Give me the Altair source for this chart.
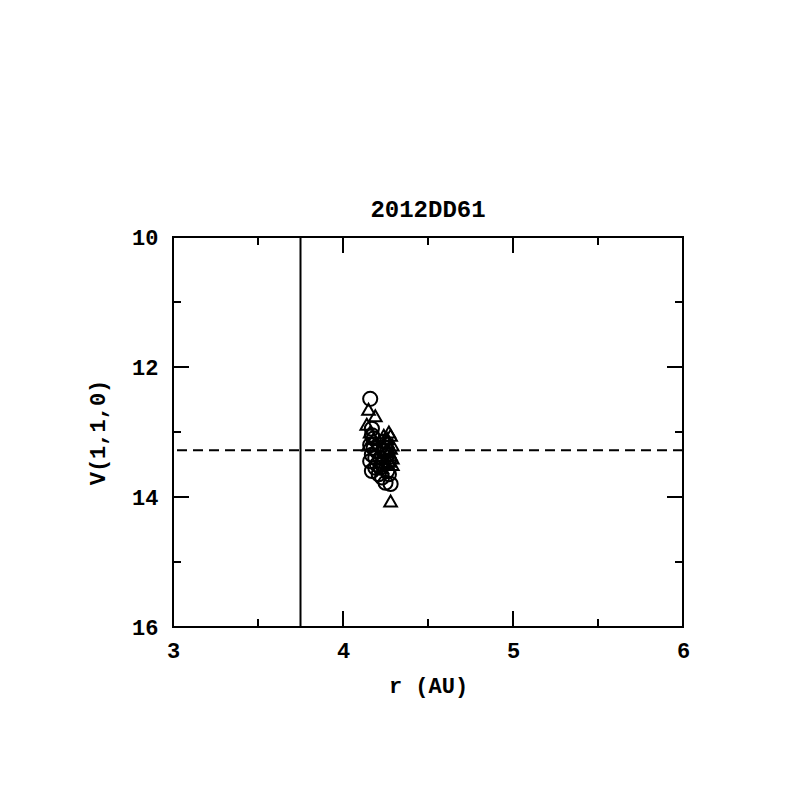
import altair as alt
import pandas as pd

circ_r = [4.16, 4.17, 4.16, 4.18, 4.17, 4.16, 4.19, 4.17, 4.20, 4.22, 4.24, 4.25, 4.27, 4.26, 4.23, 4.21, 4.19,
          4.28, 4.25, 4.22, 4.18, 4.20, 4.24, 4.26, 4.17, 4.21, 4.23, 4.27]
circ_v = [12.49, 12.95, 13.20, 13.10, 13.35, 13.45, 13.55, 13.60, 13.50, 13.40, 13.30, 13.25, 13.45, 13.60, 13.70, 13.65, 13.40,
          13.80, 13.78, 13.55, 13.25, 13.30, 13.15, 13.35, 13.05, 13.20, 13.50, 13.65]
tri_r = [4.15, 4.19, 4.14, 4.16, 4.15, 4.18, 4.27, 4.28, 4.26, 4.29, 4.25, 4.28, 4.27, 4.23, 4.29, 4.28,
         4.26, 4.28, 4.24, 4.27, 4.22, 4.29]
tri_v = [12.65, 12.75, 12.88, 13.00, 13.20, 13.10, 13.00, 13.05, 13.15, 13.20, 13.30, 13.35, 13.45, 13.55, 13.40, 14.06,
         13.10, 13.25, 13.05, 13.30, 13.40, 13.50]

vline_r = [3.75]
hline_v = [13.28]
x_major = [3, 4, 5, 6]
x_minor = [3.5, 4.5, 5.5]
y_major = [10, 12, 14, 16]
y_minor = [11, 13, 15]

FONT = "Liberation Mono"
W, H = 510, 390

xs = alt.Scale(domain=[3, 6], nice=False, zero=False)
ys = alt.Scale(domain=[10, 16], nice=False, zero=False, reverse=True)

xaxis = alt.Axis(values=x_major, format="d", ticks=False, domain=False, grid=False, labelFlush=False,
                 labelFont=FONT, labelFontSize=22, labelFontWeight="bold", labelPadding=13,
                 title="r (AU)", titleFont=FONT, titleFontSize=22, titleFontWeight="bold", titlePadding=14,
                 labelColor="black", titleColor="black")
yaxis = alt.Axis(values=y_major, format="d", ticks=False, domain=False, grid=False, labelFlush=False,
                 labelFont=FONT, labelFontSize=22, labelFontWeight="bold", labelPadding=15,
                 title="V(1,1,0)", titleFont=FONT, titleFontSize=22, titleFontWeight="bold", titlePadding=22,
                 labelColor="black", titleColor="black")

cdf = pd.DataFrame({"r": circ_r, "v": circ_v})
tdf = pd.DataFrame({"r": tri_r, "v": tri_v})

circles = alt.Chart(cdf).mark_point(shape="circle", size=200, filled=False, color="black",
                                    opacity=1, strokeWidth=2).encode(
    x=alt.X("r:Q", scale=xs, axis=xaxis),
    y=alt.Y("v:Q", scale=ys, axis=yaxis),
)
tris = alt.Chart(tdf).mark_point(shape="triangle-up", size=160, filled=False, color="black",
                                 opacity=1, strokeWidth=2).encode(
    x=alt.X("r:Q", scale=xs), y=alt.Y("v:Q", scale=ys)
)

vline = alt.Chart(pd.DataFrame({"r": vline_r})).mark_rule(color="black", strokeWidth=2).encode(
    x=alt.X("r:Q", scale=xs))
hline = alt.Chart(pd.DataFrame({"v": hline_v})).mark_rule(color="black", strokeWidth=2, strokeDash=[10, 6]).encode(
    y=alt.Y("v:Q", scale=ys))

def xticks(vals, length):
    d = pd.DataFrame({"r": vals})
    bot = alt.Chart(d).mark_rule(color="black", strokeWidth=2).encode(
        x=alt.X("r:Q", scale=xs), y=alt.value(H), y2=alt.value(H - length))
    top = alt.Chart(d).mark_rule(color="black", strokeWidth=2).encode(
        x=alt.X("r:Q", scale=xs), y=alt.value(0), y2=alt.value(length))
    return bot + top

def yticks(vals, length):
    d = pd.DataFrame({"v": vals})
    left = alt.Chart(d).mark_rule(color="black", strokeWidth=2).encode(
        y=alt.Y("v:Q", scale=ys), x=alt.value(0), x2=alt.value(length))
    right = alt.Chart(d).mark_rule(color="black", strokeWidth=2).encode(
        y=alt.Y("v:Q", scale=ys), x=alt.value(W), x2=alt.value(W - length))
    return left + right

chart = alt.layer(
    circles, tris, vline, hline,
    xticks(x_major, 16), xticks(x_minor, 8), yticks(y_major, 16), yticks(y_minor, 8),
).properties(
    width=W, height=H,
    background="white",
    title=alt.TitleParams("2012DD61", font=FONT, fontSize=24, fontWeight="bold", color="black", offset=4),
    autosize=alt.AutoSizeParams(type="none"),
    padding={"left": 165, "top": 229, "right": 100, "bottom": 160},
).configure_view(stroke="black", strokeWidth=2)

chart.save("out.html", embed_options={"renderer": "svg", "actions": False})
